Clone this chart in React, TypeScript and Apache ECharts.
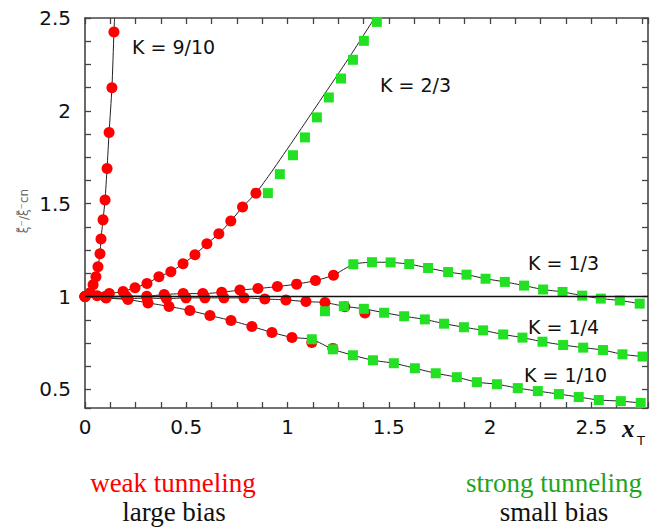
import React, { useEffect, useRef } from "react";
import * as echarts from "echarts";

// x-axis tick labels and y-axis tick labels
const xTickLabels = ["0", "0.5", "1", "1.5", "2", "2.5"];
const yTickLabels = ["0.5", "1", "1.5", "2", "2.5"];

// red circles (weak tunneling)
const redK910 = [
  [0, 1.0], [0.025, 1.021], [0.04, 1.064], [0.054, 1.107], [0.064, 1.161], [0.074, 1.23],
  [0.079, 1.31], [0.089, 1.413], [0.099, 1.52], [0.109, 1.69], [0.119, 1.884], [0.133, 2.125], [0.143, 2.425],
];
const redK23 = [
  [0, 1.0], [0.06, 1.005], [0.12, 1.016], [0.188, 1.027], [0.247, 1.048], [0.306, 1.07], [0.365, 1.107],
  [0.424, 1.134], [0.484, 1.177], [0.543, 1.225], [0.602, 1.284], [0.661, 1.338], [0.72, 1.407],
  [0.778, 1.482], [0.844, 1.557],
];
const redK13 = [
  [0, 1.0], [0.099, 1.0], [0.202, 1.003], [0.305, 1.002], [0.391, 1.011], [0.485, 1.016], [0.582, 1.016],
  [0.675, 1.023], [0.765, 1.035], [0.854, 1.043], [0.95, 1.054], [1.045, 1.067], [1.138, 1.086], [1.227, 1.115],
];
const redK14 = [
  [0, 1.0], [0.104, 0.995], [0.212, 0.989], [0.306, 0.992], [0.402, 0.989], [0.499, 0.993], [0.592, 0.993],
  [0.686, 0.993], [0.785, 0.993], [0.888, 0.987], [0.992, 0.982], [1.091, 0.973], [1.185, 0.968],
  [1.283, 0.945], [1.382, 0.912],
];
const redK110 = [
  [0, 1.0], [0.104, 0.992], [0.212, 0.984], [0.311, 0.966], [0.415, 0.947], [0.518, 0.925], [0.617, 0.898],
  [0.721, 0.871], [0.824, 0.839], [0.923, 0.807], [1.022, 0.78], [1.12, 0.753], [1.224, 0.721],
];

// green squares (strong tunneling)
const greenK23 = [
  [0.903, 1.557], [0.962, 1.659], [1.027, 1.761], [1.086, 1.857], [1.145, 1.965], [1.204, 2.072],
  [1.264, 2.174], [1.323, 2.275], [1.377, 2.377], [1.441, 2.479],
];
const greenK13 = [
  [1.325, 1.174], [1.417, 1.185], [1.509, 1.184], [1.601, 1.175], [1.694, 1.154], [1.793, 1.132],
  [1.884, 1.118], [1.978, 1.096], [2.073, 1.079], [2.168, 1.059], [2.262, 1.038], [2.358, 1.025],
  [2.455, 1.005], [2.547, 0.989], [2.641, 0.979], [2.739, 0.962],
];
const greenK14 = [
  [1.185, 0.921], [1.278, 0.948], [1.377, 0.934], [1.477, 0.913], [1.576, 0.894], [1.678, 0.877],
  [1.773, 0.854], [1.871, 0.835], [1.966, 0.818], [2.065, 0.796], [2.16, 0.779], [2.259, 0.757],
  [2.361, 0.739], [2.46, 0.725], [2.558, 0.712], [2.654, 0.689], [2.753, 0.677],
];
const greenK110 = [
  [1.12, 0.77], [1.224, 0.716], [1.323, 0.684], [1.422, 0.657], [1.525, 0.641], [1.629, 0.614],
  [1.732, 0.587], [1.836, 0.566], [1.935, 0.539], [2.034, 0.528], [2.137, 0.507], [2.236, 0.491],
  [2.34, 0.475], [2.438, 0.459], [2.537, 0.443], [2.646, 0.437], [2.744, 0.427],
];

// fitted curve pieces read where the curves leave the points
const fitK910Top = [[0.146, 2.5]];
const fitK23Upper = [[0.92, 1.67], [1.04, 1.86], [1.17, 2.07], [1.3, 2.28], [1.43, 2.5]];

const fitLines = [
  [...redK910, ...fitK910Top],
  [...redK23, ...fitK23Upper],
  [...redK13, ...greenK13],
  [...redK14.filter((p) => p[0] < 1.25), ...greenK14.filter((p) => p[0] > 1.25)],
  [...redK110.filter((p) => p[0] < 1.1), ...greenK110],
];

const kLabels = ["K = 9/10", "K = 2/3", "K = 1/3", "K = 1/4", "K = 1/10"];

const X_MIN = 0;
const X_MAX = 2.78;
const Y_MIN = 0.4;
const Y_MAX = 2.5;

export default function App() {
  const ref = useRef<HTMLDivElement>(null);

  useEffect(() => {
    const chart = echarts.init(ref.current!, null, { renderer: "svg" });
    const axisColor = "#444";
    const fmtX = (v: number) => {
      const s = String(Math.round(v * 1000) / 1000);
      return xTickLabels.includes(s) ? s : "";
    };
    const fmtY = (v: number) => {
      const s = String(Math.round(v * 1000) / 1000);
      return yTickLabels.includes(s) ? s : "";
    };
    const common: any = {
      type: "value",
      axisLine: { show: true, onZero: false, lineStyle: { color: axisColor, width: 1.6 } },
      axisTick: { show: true, inside: true, length: 6, lineStyle: { color: axisColor, width: 1.3 } },
      minorTick: { show: true, splitNumber: 4, length: 6, lineStyle: { color: axisColor, width: 1.3 } },
      splitLine: { show: false },
      minorSplitLine: { show: false },
    };
    const labelStyle = { fontFamily: "DejaVu Sans", fontSize: 20, color: "#111" };

    const lineSeries = fitLines.map((d, i) => ({
      type: "line",
      data: d,
      showSymbol: false,
      symbol: "none",
      smooth: 0.2,
      lineStyle: { color: "#222", width: 1 },
      z: 2,
      silent: true,
      ...(i === 0
        ? {
            markLine: {
              silent: true,
              symbol: ["none", "none"],
              label: { show: false },
              lineStyle: { color: "#111", width: 1.3, type: "solid" },
              data: [{ yAxis: 1 }],
            },
          }
        : {}),
    }));

    const reds = [redK910, redK23, redK13, redK14, redK110].map((d) => ({
      type: "scatter",
      data: d,
      symbol: "circle",
      symbolSize: 11,
      itemStyle: { color: "#ff0000", opacity: 1 },
      z: 3,
    }));
    const greens = [greenK23, greenK13, greenK14, greenK110].map((d) => ({
      type: "scatter",
      data: d,
      symbol: "rect",
      symbolSize: 10,
      itemStyle: { color: "#22e022", opacity: 1 },
      z: 4,
    }));

    const kPos = [
      [132, 47],
      [380, 85],
      [528, 263],
      [528, 327],
      [524, 375],
    ];
    const txt = (text: string, x: number, y: number, extra: any) => ({
      type: "text",
      x,
      y,
      silent: true,
      style: {
        text,
        fill: "#111",
        fontFamily: "DejaVu Sans",
        fontSize: 19,
        align: "left",
        textAlign: "left",
        verticalAlign: "middle",
        textVerticalAlign: "middle",
        ...extra,
      },
    });

    const graphic: any[] = [
      ...kLabels.map((k, i) => txt(k, kPos[i][0], kPos[i][1], {})),
      txt("x", 622, 428, { fontFamily: "Liberation Serif", fontStyle: "italic", fontWeight: "bold", fontSize: 25 }),
      txt("T", 637, 440, { fontSize: 13 }),
      txt("weak tunneling", 173, 483, { fontFamily: "Liberation Serif", fontSize: 27, fill: "#ff0000", align: "center", textAlign: "center" }),
      txt("large bias", 174, 512, { fontFamily: "Liberation Serif", fontSize: 27, fill: "#111", align: "center", textAlign: "center" }),
      txt("strong tunneling", 554, 483, { fontFamily: "Liberation Serif", fontSize: 27, fill: "#1ea51e", align: "center", textAlign: "center" }),
      txt("small bias", 554, 512, { fontFamily: "Liberation Serif", fontSize: 27, fill: "#111", align: "center", textAlign: "center" }),
      {
        type: "text",
        x: 24,
        y: 211,
        rotation: Math.PI / 2,
        silent: true,
        style: {
          text: "ξ̃⁻/ξ̃⁻cn",
          fill: "#666",
          fontFamily: "DejaVu Sans",
          fontSize: 12,
          align: "center",
          textAlign: "center",
          verticalAlign: "middle",
          textVerticalAlign: "middle",
        },
      },
    ];

    chart.setOption({
      animation: false,
      backgroundColor: "#fff",
      grid: { left: 85, right: 10, top: 18, bottom: 121, containLabel: false, outerBoundsMode: "none" },
      xAxis: [
        {
          ...common,
          position: "bottom",
          min: X_MIN,
          max: X_MAX,
          interval: 0.5,
          axisLabel: { ...labelStyle, margin: 9, formatter: fmtX, showMaxLabel: true, showMinLabel: true, hideOverlap: false },
        },
        {
          ...common,
          position: "top",
          min: X_MIN,
          max: X_MAX,
          interval: 0.5,
          axisLabel: { show: false },
        },
      ],
      yAxis: [
        {
          ...common,
          position: "left",
          min: Y_MIN,
          max: Y_MAX,
          splitNumber: 5,
          axisLabel: { ...labelStyle, margin: 14, formatter: fmtY, hideOverlap: false },
        },
        {
          ...common,
          position: "right",
          min: Y_MIN,
          max: Y_MAX,
          splitNumber: 5,
          axisLabel: { show: false },
        },
      ],
      series: [...lineSeries, ...reds, ...greens],
      graphic,
    } as any);

    return () => chart.dispose();
  }, []);

  return (
    <div
      ref={ref}
      style={{ position: "fixed", left: 0, top: 0, width: 658, height: 529, background: "#fff" }}
    />
  );
}
